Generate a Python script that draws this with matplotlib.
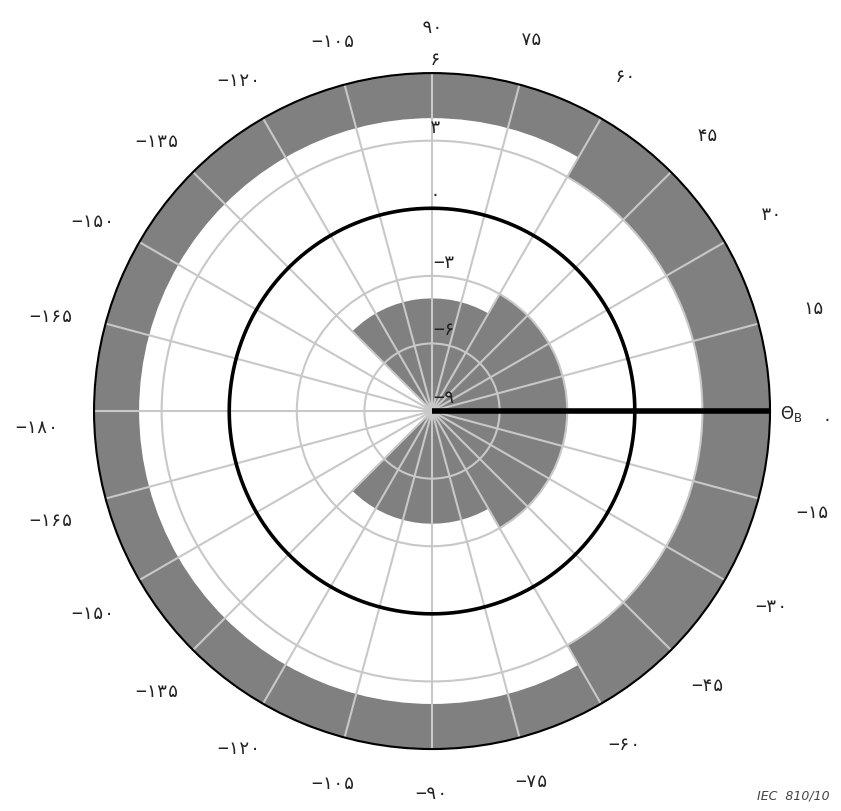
import numpy as np
import matplotlib
matplotlib.use("Agg")
import matplotlib.pyplot as plt

plt.rcParams['font.family'] = ['DejaVu Sans Mono', 'DejaVu Sans']

# Angular grid: spoke positions (deg, counter-clockwise from east) and printed values
tick_angles = list(range(0, 360, 15))
tick_values = [0, 15, 30, 45, 60, 75, 90, -105, -120, -135, -150, -165,
               -180, -165, -150, -135, -120, -105, -90, -75, -60, -45, -30, -15]

# Radial scale
R_MIN, R_MAX = -9, 6
r_label_values = [6, 3, 0, -3, -6, -9]
r_ring_values = [-6, -3, 3]

# Inner mask: sectors filled from the centre out to a limit
inner_from = [-135, -60, 60]
inner_to = [-60, 60, 135]
inner_limit = [-4, -3, -4]

# Outer mask: sectors filled from a limit out to the rim
outer_from = [-60, 60]
outer_to = [60, 300]
outer_limit = [3, 4]

# Reference circle and reference direction
ref_circle = 0
ref_direction = 0

PERSIAN = str.maketrans("0123456789-", "۰۱۲۳۴۵۶۷۸۹\u2212")


def fa(v):
    return str(v).translate(PERSIAN)


MASK = "#808080"
GRID = "#c8c8c8"
TXT = "#222222"
FS = 13

fig = plt.figure(figsize=(8.41, 8.11), dpi=100)
ax = fig.add_axes([0.1118, 0.0764, 0.8038, 0.8335], projection="polar")
ax.set_ylim(R_MIN, R_MAX)

ax.set_xticks(np.deg2rad(tick_angles))
ax.set_xticklabels([])
ax.set_yticks(r_ring_values)
ax.set_yticklabels([])
ax.grid(True, color=GRID, lw=1.5)
ax.spines["polar"].set_color("black")
ax.spines["polar"].set_linewidth(1.5)

# Masks
for a, b, lim in zip(inner_from, inner_to, inner_limit):
    ax.bar(np.deg2rad((a + b) / 2), lim - R_MIN, width=np.deg2rad(b - a),
           bottom=R_MIN, color=MASK, edgecolor="none", linewidth=0, zorder=1)
for a, b, lim in zip(outer_from, outer_to, outer_limit):
    ax.bar(np.deg2rad((a + b) / 2), R_MAX - lim, width=np.deg2rad(b - a),
           bottom=lim, color=MASK, edgecolor="none", linewidth=0, zorder=1)

# Reference circle and direction
th = np.linspace(0, 2 * np.pi, 721)
ax.plot(th, np.full_like(th, ref_circle), color="black", lw=2.6, zorder=3)
ax.plot([np.deg2rad(ref_direction)] * 2, [R_MIN, R_MAX], color="black",
        lw=4, solid_capstyle="butt", zorder=3)

# Angular labels outside the rim (offsets in pixels from the rim)
rim_px = 338
for a, v in zip(tick_angles, tick_values):
    t = np.deg2rad(a)
    c, s = np.cos(t), np.sin(t)
    dist = 383 + 12 * c * c - rim_px
    dy = dist * s - 8 * max(0.0, -c)
    if a % 180 == 0:
        dy -= 9  # keep labels on the horizontal axis clear of the line
    ax.annotate(fa(v), xy=(t, R_MAX), xytext=(dist * c, dy),
                textcoords="offset pixels", ha="center", va="center",
                fontsize=FS, color=TXT, annotation_clip=False)

# Radial labels along the 90 deg spoke
for v in r_label_values:
    dx = 12 if v < 0 else 3
    ax.annotate(fa(v), xy=(np.pi / 2, v), xytext=(dx, 13),
                textcoords="offset pixels", ha="center", va="center",
                fontsize=FS, color=TXT, zorder=4, annotation_clip=False)

fig.text(780 / 841, 1 - 414 / 811, r"$\mathregular{\Theta_B}$", ha="left",
         va="center", fontsize=12, color=TXT, family="DejaVu Sans")
fig.text(830 / 841, 1 - 796 / 811, "IEC  810/10", ha="right", va="center",
         fontsize=9, style="italic", color="#444444", family="DejaVu Sans")

fig.savefig("out.png", dpi=100)
